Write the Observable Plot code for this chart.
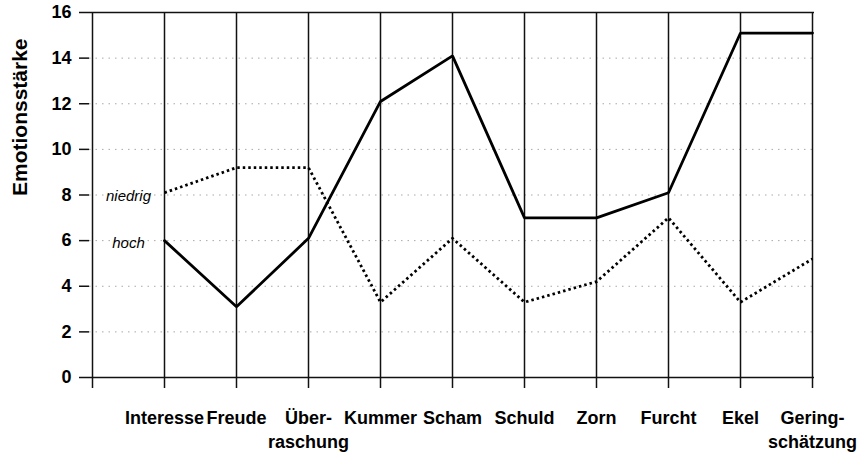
<!DOCTYPE html>
<html><head><meta charset="utf-8">
<script src="https://cdn.jsdelivr.net/npm/d3@7"></script>
<script src="https://cdn.jsdelivr.net/npm/@observablehq/plot@0.6"></script>
<style>body{margin:0;background:#fff}</style>
</head><body><div id="chart"></div>
<script>
const categories = ["Interesse","Freude","Überraschung","Kummer","Scham","Schuld","Zorn","Furcht","Ekel","Geringschätzung"];
const tickLabels = ["Interesse","Freude","Über-\nraschung","Kummer","Scham","Schuld","Zorn","Furcht","Ekel","Gering-\nschätzung"];
const hoch = [6.0, 3.1, 6.1, 12.1, 14.1, 7.0, 7.0, 8.1, 15.1, 15.1];
const niedrig = [8.1, 9.2, 9.2, 3.3, 6.1, 3.3, 4.2, 7.0, 3.3, 5.2];
const seriesNames = ["hoch", "niedrig"];
const yTicks = [0, 2, 4, 6, 8, 10, 12, 14, 16];
const gridTicks = [2, 4, 6, 8, 10, 12, 14];
const yTitle = "Emotionsstärke";

const xDomain = [""].concat(categories);
const labelOf = new Map(categories.map((c, i) => [c, tickLabels[i]]));
const seriesValues = {hoch, niedrig};
const rows = seriesNames.flatMap(s => categories.map((c, i) => ({series: s, category: c, value: seriesValues[s][i]})));

const chart = Plot.plot({
  width: 861,
  height: 455,
  marginLeft: 89,
  marginRight: 47,
  marginTop: 12,
  marginBottom: 78,
  style: {fontFamily: "'Liberation Sans', Arial, sans-serif", background: "#fff", color: "#000"},
  x: {type: "point", domain: xDomain, padding: 0},
  y: {domain: [0, 16]},
  marks: [
    Plot.ruleY(gridTicks, {stroke: "#a8a8a8", strokeWidth: 1, strokeDasharray: "1.5,5"}),
    Plot.ruleX(xDomain, {stroke: "#111", strokeWidth: 1.5}),
    Plot.ruleY([0, 16], {stroke: "#111", strokeWidth: 1.6}),
    Plot.axisY({ticks: yTicks, tickSize: 10, tickPadding: 8, fontSize: 18, fontWeight: "bold", label: null, stroke: "#111", strokeWidth: 1.5}),
    Plot.axisX({ticks: xDomain, tickSize: 11, tickPadding: 19, fontSize: 18, fontWeight: "bold", lineHeight: 1.3,
      tickFormat: d => labelOf.get(d) ?? "", label: null, stroke: "#111", strokeWidth: 1.5}),
    Plot.text([yTitle], {frameAnchor: "left", rotate: -90, dx: -69, dy: 1, fontSize: 21, fontWeight: "bold"}),
    Plot.line(rows, {filter: d => d.series === "hoch", x: "category", y: "value", stroke: "#000", strokeWidth: 2.8, strokeLinejoin: "miter"}),
    Plot.line(rows, {filter: d => d.series === "niedrig", x: "category", y: "value", stroke: "#000", strokeWidth: 2.8, strokeDasharray: "2.5,3", strokeLinecap: "butt"}),
    Plot.text(rows, Plot.selectFirst({x: "category", y: "value", z: "series", text: "series", textAnchor: "middle", dx: -36, dy: 3, fontSize: 15, fontStyle: "italic"}))
  ]
});
document.getElementById("chart").appendChild(chart);
</script>
</body></html>
